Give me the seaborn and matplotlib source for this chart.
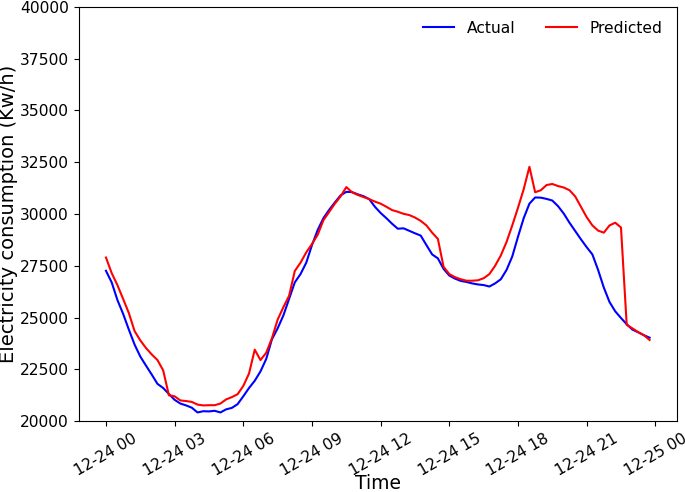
import numpy as np
import pandas as pd
import matplotlib
matplotlib.use("Agg")
import matplotlib.pyplot as plt
import matplotlib.dates as mdates
import seaborn as sns

actual = [
    27260, 26700, 25850, 25180, 24420, 23700, 23120, 22680, 22250, 21800, 21600, 21310,
    21030, 20850, 20760, 20650, 20420, 20480, 20470, 20500, 20420, 20570, 20640, 20820,
    21200, 21600, 21950, 22400, 23000, 23950, 24480, 25100, 25900, 26700, 27100, 27650,
    28500, 29230, 29800, 30200, 30560, 30900, 31070, 31060, 30950, 30860, 30720, 30350,
    30050, 29800, 29530, 29290, 29310, 29190, 29070, 28960, 28500, 28050, 27860, 27350,
    27030, 26880, 26770, 26720, 26650, 26600, 26570, 26500, 26650, 26850, 27300, 27950,
    28900, 29800, 30500, 30800, 30790, 30730, 30650, 30380, 30020, 29580, 29180, 28780,
    28400, 28050, 27300, 26450, 25750, 25300, 24980, 24680, 24420, 24290, 24150, 24030,
]
predicted = [
    27900, 27150, 26570, 25900, 25220, 24350, 23900, 23530, 23220, 22950, 22450, 21250,
    21200, 21000, 20970, 20930, 20800, 20760, 20770, 20770, 20850, 21050, 21160, 21300,
    21700, 22300, 23450, 22950, 23300, 24000, 24900, 25500, 26050, 27250, 27650, 28150,
    28550, 29000, 29700, 30100, 30500, 30850, 31300, 31050, 30920, 30820, 30720, 30600,
    30500, 30350, 30190, 30110, 30010, 29950, 29830, 29670, 29450, 29100, 28800, 27450,
    27100, 26950, 26850, 26780, 26780, 26800, 26900, 27100, 27500, 28000, 28650, 29450,
    30300, 31200, 32280, 31050, 31150, 31400, 31450, 31350, 31280, 31150, 30850, 30350,
    29850, 29450, 29200, 29100, 29450, 29580, 29350, 24650, 24480, 24300, 24150, 23920,
]
times = pd.date_range("2019-12-24 00:00", periods=len(actual), freq="15min")
series_names = ["Actual", "Predicted"]
series_colors = ["#0000ff", "#ff0000"]

df = pd.DataFrame({
    "Time": list(times) * 2,
    "value": actual + predicted,
    "series": [series_names[0]] * len(actual) + [series_names[1]] * len(predicted),
})

fig = plt.figure(figsize=(6.85, 4.92), dpi=100)
ax = fig.add_axes([0.115, 0.144, 0.873, 0.842])
sns.lineplot(data=df, x="Time", y="value", hue="series", hue_order=series_names,
             palette=series_colors, linewidth=1.5, ax=ax)

ax.set_ylim(20000, 40000)
ax.set_yticks(np.arange(20000, 40001, 2500))
ax.xaxis.set_major_locator(mdates.HourLocator(byhour=range(0, 24, 3)))
ax.xaxis.set_major_formatter(mdates.DateFormatter("%m-%d %H"))
ax.tick_params(axis="both", labelsize=11.2)
plt.setp(ax.get_xticklabels(), rotation=30, ha="center")
ax.set_xlabel("Time", fontsize=13.5, va="center")
ax.xaxis.set_label_coords(0.5, -0.150)
ax.set_ylabel("Electricity consumption (Kw/h)", fontsize=14, labelpad=1.5)

handles, labels = ax.get_legend_handles_labels()
ax.legend(handles, labels, loc="upper right", ncol=2, frameon=False, fontsize=11.2)

fig.savefig("out.png", dpi=100)
